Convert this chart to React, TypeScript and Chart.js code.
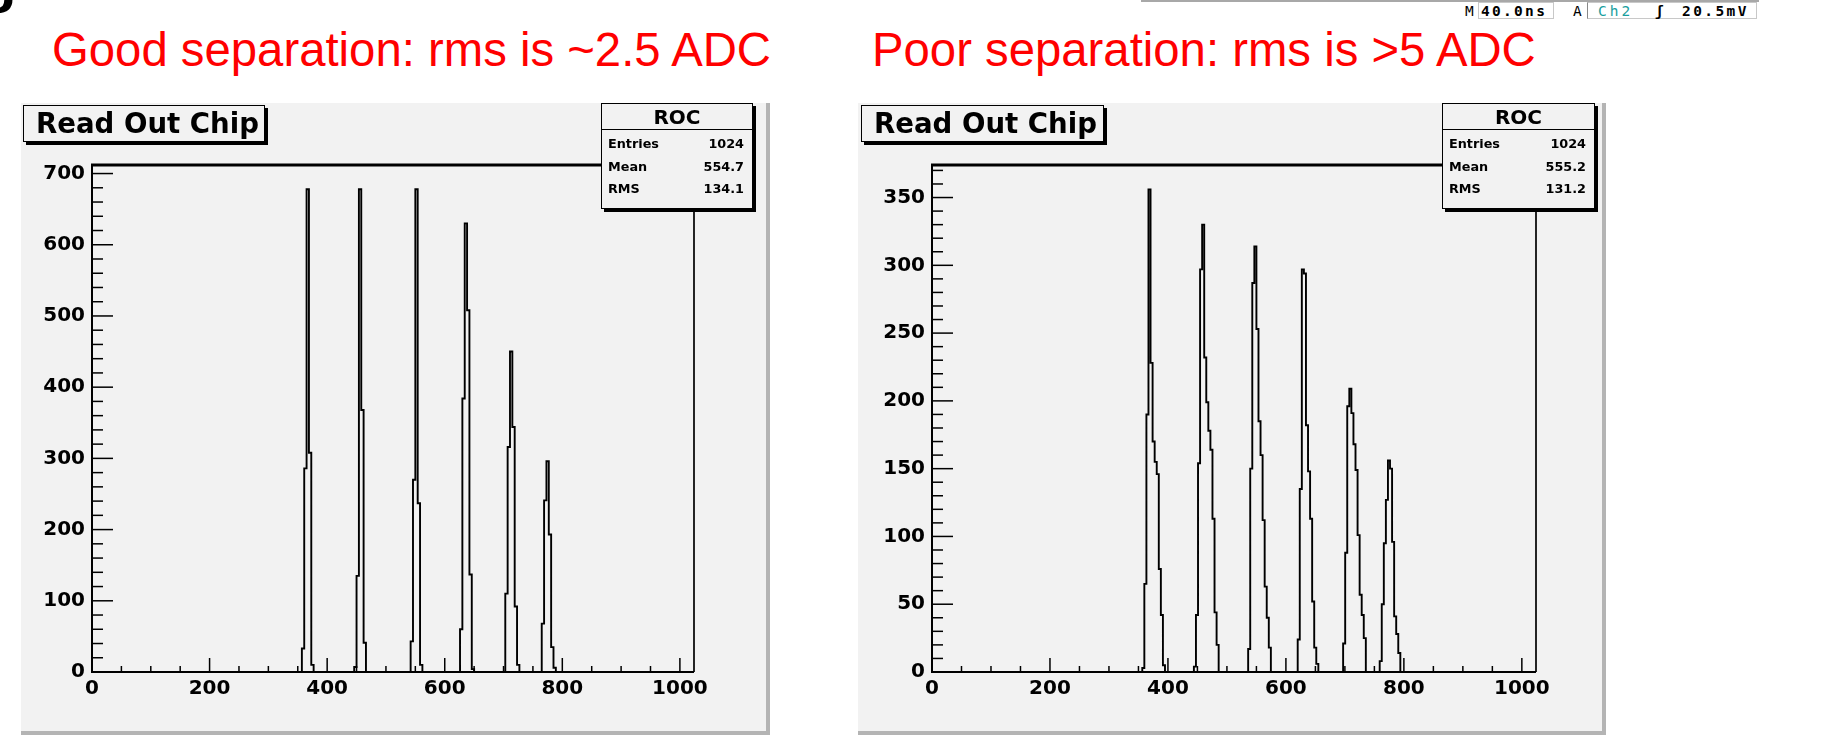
import React, { useEffect, useRef } from "react";
import { Chart, registerables } from "chart.js";

Chart.register(...registerables);

// ---------------- data ----------------
const xTickValues = [0, 200, 400, 600, 800, 1000];
const xAxisMax = 1024;

const goodYTicks = [0, 100, 200, 300, 400, 500, 600, 700];
const goodYMax = 712;
const poorYTicks = [0, 50, 100, 150, 200, 250, 300, 350];
const poorYMax = 374;

// "Good separation" histogram: bins of width 4, six peaks
const goodBinWidth = 4;
const goodPeakStarts = [357, 446, 542, 626, 703, 765];
const goodPeak1 = [33, 286, 678, 308, 10];
const goodPeak2 = [7, 135, 678, 368, 41];
const goodPeak3 = [43, 270, 678, 237, 10];
const goodPeak4 = [60, 384, 630, 508, 137, 4];
const goodPeak5 = [110, 316, 450, 344, 92, 10];
const goodPeak6 = [68, 241, 296, 193, 35, 6];

// "Poor separation" histogram
const poorBinWidth = 3.5;
const poorPeakStarts = [356.5, 444, 536, 620, 697, 759];
const poorPeak1 = [3, 65, 190, 356, 228, 170, 155, 146, 76, 42, 5];
const poorPeak2 = [4, 42, 154, 297, 330, 232, 199, 178, 164, 113, 44, 20];
const poorPeak3 = [17, 150, 287, 314, 253, 185, 160, 112, 63, 40, 18];
const poorPeak4 = [24, 135, 297, 294, 182, 148, 113, 52, 18, 6];
const poorPeak5 = [21, 88, 196, 209, 191, 168, 149, 101, 57, 42, 25];
const poorPeak6 = [8, 50, 95, 127, 156, 150, 96, 41, 28, 14];

const histName = "ROC";
const histTitle = "Read Out Chip";
const statLabels = ["Entries", "Mean", "RMS"];
const goodStats = ["1024", "554.7", "134.1"];
const poorStats = ["1024", "555.2", "131.2"];
const goodCaption = "Good separation: rms is ~2.5 ADC";
const poorCaption = "Poor separation: rms is >5 ADC";

// ---------------- helpers ----------------
function histPoints(starts: number[], peaks: number[][], w: number, xmax: number) {
  const pts: { x: number; y: number }[] = [{ x: 0, y: 0 }];
  starts.forEach((s, i) => {
    const counts = peaks[i];
    counts.forEach((c, j) => pts.push({ x: s + j * w, y: c }));
    pts.push({ x: s + counts.length * w, y: 0 });
  });
  pts.push({ x: xmax, y: 0 });
  return pts;
}

const FONT = "'Liberation Sans', Arial, Helvetica, sans-serif";
const ROOT_FONT = "'DejaVu Sans', 'Liberation Sans', sans-serif";

const rootAxes = {
  id: "rootAxes",
  afterDatasetsDraw(chart: any, _args: any, opts: any) {
    const { ctx, chartArea: a } = chart;
    const xs = chart.scales.x;
    const ys = chart.scales.y;
    ctx.save();
    ctx.strokeStyle = "#000";
    ctx.lineCap = "butt";
    ctx.lineWidth = 1.5;
    for (let v = 0; v <= ys.max + 1e-9; v += opts.yMinor) {
      const p = ys.getPixelForValue(v);
      const r = v / opts.yMajor;
      const major = Math.abs(r - Math.round(r)) < 1e-6;
      ctx.beginPath();
      ctx.moveTo(a.left, p);
      ctx.lineTo(a.left + (major ? 21 : 11), p);
      ctx.stroke();
    }
    for (let v = 0; v <= xs.max + 1e-9; v += opts.xMinor) {
      const p = xs.getPixelForValue(v);
      const r = v / opts.xMajor;
      const major = Math.abs(r - Math.round(r)) < 1e-6;
      ctx.beginPath();
      ctx.moveTo(p, a.bottom);
      ctx.lineTo(p, a.bottom - (major ? 14 : 6));
      ctx.stroke();
    }
    // frame
    ctx.lineWidth = 2;
    ctx.beginPath();
    ctx.moveTo(a.left, a.top);
    ctx.lineTo(a.left, a.bottom);
    ctx.lineTo(a.right, a.bottom);
    ctx.stroke();
    ctx.lineWidth = 1.7;
    ctx.beginPath();
    ctx.moveTo(a.right, a.bottom);
    ctx.lineTo(a.right, a.top);
    ctx.stroke();
    ctx.lineWidth = 3;
    ctx.beginPath();
    ctx.moveTo(a.left - 1, a.top);
    ctx.lineTo(a.right, a.top);
    ctx.stroke();
    ctx.restore();
  },
};

type PanelProps = {
  left: number;
  width: number;
  areaLeft: number;
  areaRight: number;
  points: { x: number; y: number }[];
  yMax: number;
  yTicks: number[];
  yMinor: number;
  yMajor: number;
  titleLeft: number;
  titleWidth: number;
  statsLeft: number;
  statsWidth: number;
  stats: string[];
};

const PANEL_TOP = 103;
const PANEL_H = 632;
const AREA_TOP = 62;
const AREA_BOTTOM = 569;
const X_AXIS_H = 40;

function Panel(p: PanelProps) {
  const ref = useRef<HTMLCanvasElement>(null);
  useEffect(() => {
    const tickFont = { family: ROOT_FONT, size: 20, weight: "bold" as const };
    const chart = new Chart(ref.current!, {
      type: "line",
      data: {
        datasets: [
          {
            data: p.points,
            borderColor: "#000",
            borderWidth: 1.9,
            pointRadius: 0,
            stepped: true,
            fill: false,
          },
        ],
      },
      options: {
        animation: false,
        responsive: false,
        maintainAspectRatio: false,
        devicePixelRatio: 1,
        layout: {
          padding: {
            left: 0,
            top: AREA_TOP,
            right: p.width - p.areaRight,
            bottom: PANEL_H - AREA_BOTTOM - X_AXIS_H,
          },
        },
        plugins: {
          legend: { display: false },
          tooltip: { enabled: false },
          rootAxes: { yMinor: p.yMinor, yMajor: p.yMajor, xMinor: 50, xMajor: 200 },
        } as any,
        scales: {
          x: {
            type: "linear",
            min: 0,
            max: xAxisMax,
            grid: { display: false, drawTicks: false },
            border: { display: false },
            afterBuildTicks: (s: any) => {
              s.ticks = xTickValues.map((v) => ({ value: v }));
            },
            afterFit: (s: any) => {
              s.height = X_AXIS_H;
            },
            ticks: {
              autoSkip: false,
              maxRotation: 0,
              minRotation: 0,
              padding: 5,
              color: "#000",
              font: tickFont,
              callback: (v: any) => String(v),
            },
          },
          y: {
            type: "linear",
            min: 0,
            max: p.yMax,
            grid: { display: false, drawTicks: false },
            border: { display: false },
            afterBuildTicks: (s: any) => {
              s.ticks = p.yTicks.map((v) => ({ value: v }));
            },
            afterFit: (s: any) => {
              s.width = p.areaLeft;
            },
            ticks: {
              autoSkip: false,
              padding: 7,
              color: "#000",
              font: tickFont,
              callback: (v: any) => String(v),
            },
          },
        },
      } as any,
      plugins: [rootAxes],
    });
    return () => chart.destroy();
  }, []);

  return (
    <>
      <div
        style={{
          position: "absolute",
          left: p.left,
          top: PANEL_TOP,
          width: p.width,
          height: PANEL_H,
          background: "#f2f2f2",
          borderRight: "4px solid #b4b4b4",
          borderBottom: "4px solid #b4b4b4",
          boxSizing: "border-box",
        }}
      >
        <canvas
          ref={ref}
          width={p.width}
          height={PANEL_H}
          style={{ position: "absolute", left: 0, top: 0 }}
        />
      </div>
      <div
        style={{
          position: "absolute",
          left: p.titleLeft,
          top: 105,
          width: p.titleWidth,
          height: 37,
          boxSizing: "border-box",
          border: "1px solid #000",
          boxShadow: "3px 3px 0 #000",
          background: "#f2f2f2",
          fontFamily: ROOT_FONT,
          fontWeight: "bold",
          fontSize: 27.6,
          lineHeight: "35px",
          paddingLeft: 12,
          whiteSpace: "nowrap",
          color: "#000",
        }}
      >
        {histTitle}
      </div>
      <div
        style={{
          position: "absolute",
          left: p.statsLeft,
          top: 103,
          width: p.statsWidth,
          height: 106,
          boxSizing: "border-box",
          border: "1px solid #000",
          boxShadow: "3px 3px 0 #000",
          background: "#f2f2f2",
          fontFamily: ROOT_FONT,
          fontWeight: "bold",
          color: "#000",
        }}
      >
        <div
          style={{
            height: 25,
            borderBottom: "1px solid #000",
            textAlign: "center",
            fontSize: 20,
            lineHeight: "27px",
          }}
        >
          {histName}
        </div>
        <div style={{ paddingTop: 3 }}>
          {statLabels.map((lab, i) => (
            <div
              key={lab}
              style={{
                display: "flex",
                justifyContent: "space-between",
                height: 22.5,
                lineHeight: "22.5px",
                fontSize: 12.8,
                paddingLeft: 6,
                paddingRight: 8,
              }}
            >
              <span>{lab}</span>
              <span>{p.stats[i]}</span>
            </div>
          ))}
        </div>
      </div>
    </>
  );
}

export default function App() {
  const goodPoints = histPoints(
    goodPeakStarts,
    [goodPeak1, goodPeak2, goodPeak3, goodPeak4, goodPeak5, goodPeak6],
    goodBinWidth,
    xAxisMax
  );
  const poorPoints = histPoints(
    poorPeakStarts,
    [poorPeak1, poorPeak2, poorPeak3, poorPeak4, poorPeak5, poorPeak6],
    poorBinWidth,
    xAxisMax
  );

  const caption: React.CSSProperties = {
    position: "absolute",
    top: 26,
    fontFamily: FONT,
    fontSize: 47.3,
    lineHeight: "47px",
    color: "#ff0000",
    whiteSpace: "nowrap",
  };

  const scopeFont: React.CSSProperties = {
    position: "absolute",
    top: 3,
    fontFamily: "'DejaVu Sans Mono', monospace",
    fontSize: 14.5,
    lineHeight: "16px",
    color: "#000",
    whiteSpace: "nowrap",
  };

  return (
    <div
      style={{
        position: "fixed",
        left: 0,
        top: 0,
        width: 1823,
        height: 737,
        background: "#fff",
        overflow: "hidden",
      }}
    >
      {/* cut-off glyph from the slide above */}
      <div
        style={{
          position: "absolute",
          left: -20,
          top: -49,
          fontFamily: FONT,
          fontWeight: "bold",
          fontSize: 60,
          lineHeight: "60px",
          color: "#000",
        }}
      >
        g
      </div>

      {/* oscilloscope strip remnant */}
      <div
        style={{
          position: "absolute",
          left: 1141,
          top: 0,
          width: 618,
          height: 2,
          background: "#a8a8a8",
        }}
      />
      <div style={{ ...scopeFont, left: 1465 }}>M</div>
      <div
        style={{
          ...scopeFont,
          left: 1478,
          top: 2,
          width: 76,
          height: 17,
          border: "1px solid #c8c8c8",
          boxSizing: "border-box",
          paddingLeft: 2,
          letterSpacing: 2.3,
          fontWeight: "bold",
        }}
      >
        40.0ns
      </div>
      <div style={{ ...scopeFont, left: 1573 }}>A</div>
      <div
        style={{
          position: "absolute",
          left: 1587,
          top: 2,
          width: 170,
          height: 17,
          border: "1px solid #c8c8c8",
          borderLeftColor: "#888",
          boxSizing: "border-box",
        }}
      />
      <div style={{ ...scopeFont, left: 1598, color: "#1a9e9e", letterSpacing: 3 }}>Ch2</div>
      <div style={{ ...scopeFont, left: 1655, fontWeight: "bold" }}>ʃ</div>
      <div style={{ ...scopeFont, left: 1682, letterSpacing: 2.4, fontWeight: "bold" }}>20.5mV</div>

      {/* captions */}
      <div style={{ ...caption, left: 52 }}>{goodCaption}</div>
      <div style={{ ...caption, left: 872 }}>{poorCaption}</div>

      <Panel
        left={21}
        width={749}
        areaLeft={71}
        areaRight={673}
        points={goodPoints}
        yMax={goodYMax}
        yTicks={goodYTicks}
        yMinor={20}
        yMajor={100}
        titleLeft={23}
        titleWidth={242}
        statsLeft={601}
        statsWidth={152}
        stats={goodStats}
      />
      <Panel
        left={858}
        width={748}
        areaLeft={74}
        areaRight={678}
        points={poorPoints}
        yMax={poorYMax}
        yTicks={poorYTicks}
        yMinor={10}
        yMajor={50}
        titleLeft={861}
        titleWidth={243}
        statsLeft={1442}
        statsWidth={153}
        stats={poorStats}
      />
    </div>
  );
}
